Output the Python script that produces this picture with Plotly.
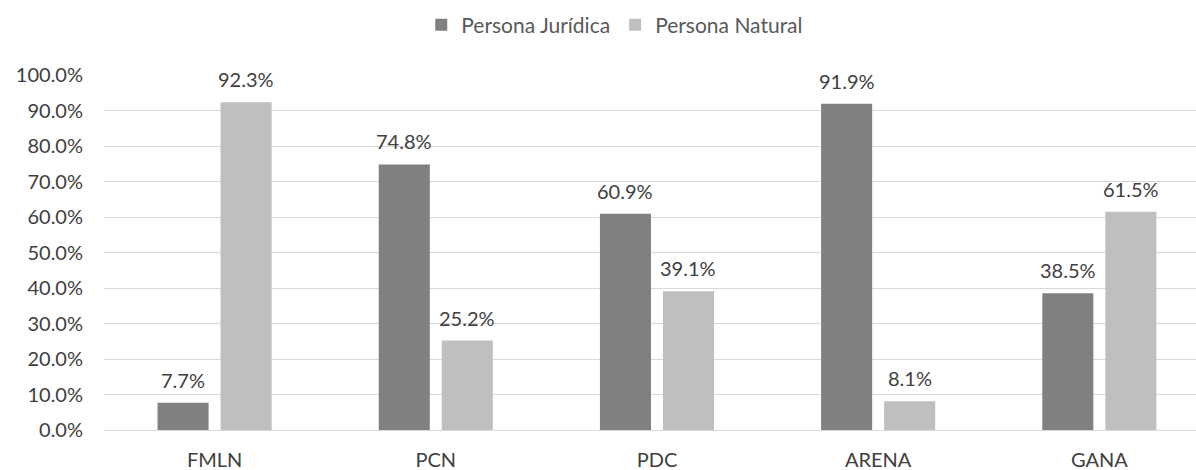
import plotly.graph_objects as go

categories = ["FMLN", "PCN", "PDC", "ARENA", "GANA"]
juridica = [0.077, 0.748, 0.609, 0.919, 0.385]
natural = [0.923, 0.252, 0.391, 0.081, 0.615]
series_names = ["Persona Jurídica", "Persona Natural"]
colors = ["#808080", "#bfbfbf"]

font_family = "Lato, Open Sans, sans-serif"
label_color = "#404040"

fig = go.Figure()
for name, vals, col in zip(series_names, [juridica, natural], colors):
    fig.add_trace(go.Bar(
        x=categories, y=vals, name=name,
        marker=dict(color=col, line=dict(width=0)),
        cliponaxis=False,
    ))

# data labels as annotations (offset to each bar of the group)
slot_px = 31.5
for sign, vals in zip([-1, 1], [juridica, natural]):
    for cat, v in zip(categories, vals):
        fig.add_annotation(
            x=cat, y=v, xref="x", yref="y",
            text=f"{v*100:.1f}%", showarrow=False,
            xanchor="center", yanchor="bottom",
            xshift=sign * slot_px, yshift=9,
            font=dict(size=20, color=label_color, family=font_family),
        )

fig.update_layout(
    width=1196, height=470,
    margin=dict(l=104, r=0, t=75, b=40, autoexpand=False),
    paper_bgcolor="white", plot_bgcolor="white",
    barmode="group", bargap=0.43, bargroupgap=0.19,
    font=dict(family=font_family, size=20, color="#595959"),
    legend=dict(orientation="h", x=0.514, xanchor="center", y=0.99, yanchor="top",
                xref="container", yref="container",
                font=dict(size=21, color="#595959"),
                itemwidth=30, traceorder="normal"),
    xaxis=dict(showgrid=False, showline=False, ticks="", automargin=False,
               range=[-0.5, 4.437], ticklabelstandoff=16,
               tickfont=dict(size=20, color=label_color)),
    yaxis=dict(range=[0, 1.0], dtick=0.1, tickformat=".1%", automargin=False,
               showgrid=True, gridcolor="#d9d9d9", gridwidth=1.3,
               zeroline=True, zerolinecolor="#d9d9d9", zerolinewidth=1.3,
               showline=False, ticks="", ticklabelstandoff=20,
               tickfont=dict(size=20, color=label_color)),
)

fig.write_html("out.html", config={"displayModeBar": False},
               post_script="document.body.style.margin='0';")
